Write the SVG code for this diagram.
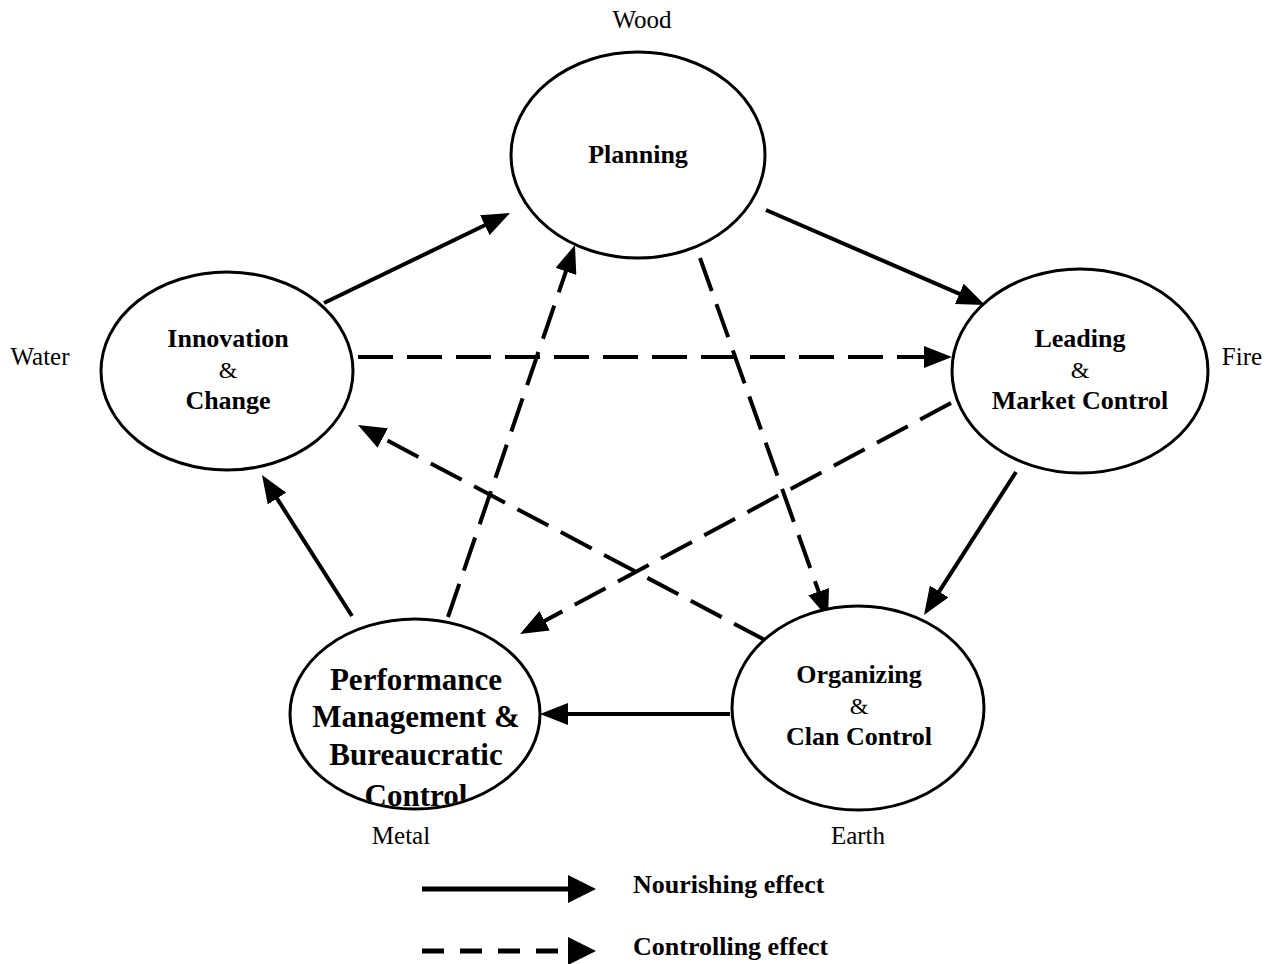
<svg xmlns="http://www.w3.org/2000/svg" width="1272" height="964" viewBox="0 0 1272 964">
<style>
.node{fill:#fff;stroke:#000;stroke-width:3}
.lbl{font-family:"Liberation Serif","Times New Roman",serif;font-size:26px;font-weight:bold;text-anchor:middle;fill:#000}
.amp{font-family:"Liberation Serif","Times New Roman",serif;font-size:24px;text-anchor:middle;fill:#000}
.big{font-family:"Liberation Serif","Times New Roman",serif;font-size:31px;font-weight:bold;text-anchor:middle;fill:#000}
.elem{font-family:"Liberation Serif","Times New Roman",serif;font-size:25px;text-anchor:middle;fill:#000}
.leg{font-family:"Liberation Serif","Times New Roman",serif;font-size:26px;font-weight:bold;fill:#000}
.solid{fill:none;stroke:#000;stroke-width:4;marker-end:url(#ah)}
.dash{fill:none;stroke:#000;stroke-width:4;stroke-dasharray:35 14;marker-end:url(#ah)}
.legline{fill:none;stroke:#000;stroke-width:5;marker-end:url(#ahl)}
</style>
<defs>
<marker id="ah" markerUnits="userSpaceOnUse" markerWidth="28" markerHeight="22" refX="4" refY="11" orient="auto" viewBox="0 0 28 22">
<path d="M0,0 L28,11 L0,22 z" fill="#000"/>
</marker>
<marker id="ahl" markerUnits="userSpaceOnUse" markerWidth="28" markerHeight="28" refX="4" refY="14" orient="auto" viewBox="0 0 28 28">
<path d="M0,0 L28,14 L0,28 z" fill="#000"/>
</marker>
<clipPath id="perfclip"><ellipse cx="415" cy="714" rx="123.5" ry="93.5"/></clipPath>
</defs>
<rect width="1272" height="964" fill="#fff"/>

<g id="connectors">
<line class="solid" x1="324" y1="303" x2="488.4" y2="223.5"/>
<line class="solid" x1="766" y1="210" x2="963" y2="295.4"/>
<line class="solid" x1="1016" y1="472" x2="937" y2="594.8"/>
<line class="solid" x1="730" y1="714" x2="564" y2="714"/>
<line class="solid" x1="352" y1="616" x2="274.9" y2="495.2"/>
<line class="dash" x1="358" y1="357" x2="928" y2="357"/>
<line class="dash" x1="700" y1="258" x2="820" y2="595.4"/>
<line class="dash" x1="951" y1="403" x2="541.2" y2="622.7"/>
<line class="dash" x1="765" y1="640" x2="379.2" y2="436.2"/>
<line class="dash" x1="448" y1="617" x2="567.2" y2="267.7"/>
</g>

<g id="planning">
<ellipse class="node" cx="638" cy="155" rx="127" ry="103"/>
<text class="lbl" x="638" y="163">Planning</text>
</g>
<g id="innovation">
<ellipse class="node" cx="227" cy="371" rx="126" ry="99"/>
<text class="lbl" x="228" y="347">Innovation</text>
<text class="amp" x="228" y="378">&amp;</text>
<text class="lbl" x="228" y="409">Change</text>
</g>
<g id="leading">
<ellipse class="node" cx="1080" cy="371" rx="128" ry="102"/>
<text class="lbl" x="1080" y="347">Leading</text>
<text class="amp" x="1080" y="378">&amp;</text>
<text class="lbl" x="1080" y="409">Market Control</text>
</g>
<g id="organizing">
<ellipse class="node" cx="858" cy="708" rx="126" ry="102"/>
<text class="lbl" x="859" y="683">Organizing</text>
<text class="amp" x="859" y="714">&amp;</text>
<text class="lbl" x="859" y="745">Clan Control</text>
</g>
<g id="performance">
<ellipse class="node" cx="415" cy="714" rx="125" ry="95"/>
<g clip-path="url(#perfclip)">
<text class="big" x="416" y="690">Performance</text>
<text class="big" x="416" y="727">Management &amp;</text>
<text class="big" x="416" y="765">Bureaucratic</text>
<text class="big" x="416" y="806">Control</text>
</g>
</g>

<g id="elements">
<text class="elem" x="642" y="28">Wood</text>
<text class="elem" x="40" y="365">Water</text>
<text class="elem" x="1242" y="365">Fire</text>
<text class="elem" x="401" y="844">Metal</text>
<text class="elem" x="858" y="844">Earth</text>
</g>

<g id="legend">
<line class="legline" x1="422" y1="889" x2="572" y2="889"/>
<text class="leg" x="633" y="893">Nourishing effect</text>
<line class="legline" x1="422" y1="951" x2="572" y2="951" style="stroke-dasharray:22 16"/>
<text class="leg" x="633" y="955">Controlling effect</text>
</g>
</svg>
